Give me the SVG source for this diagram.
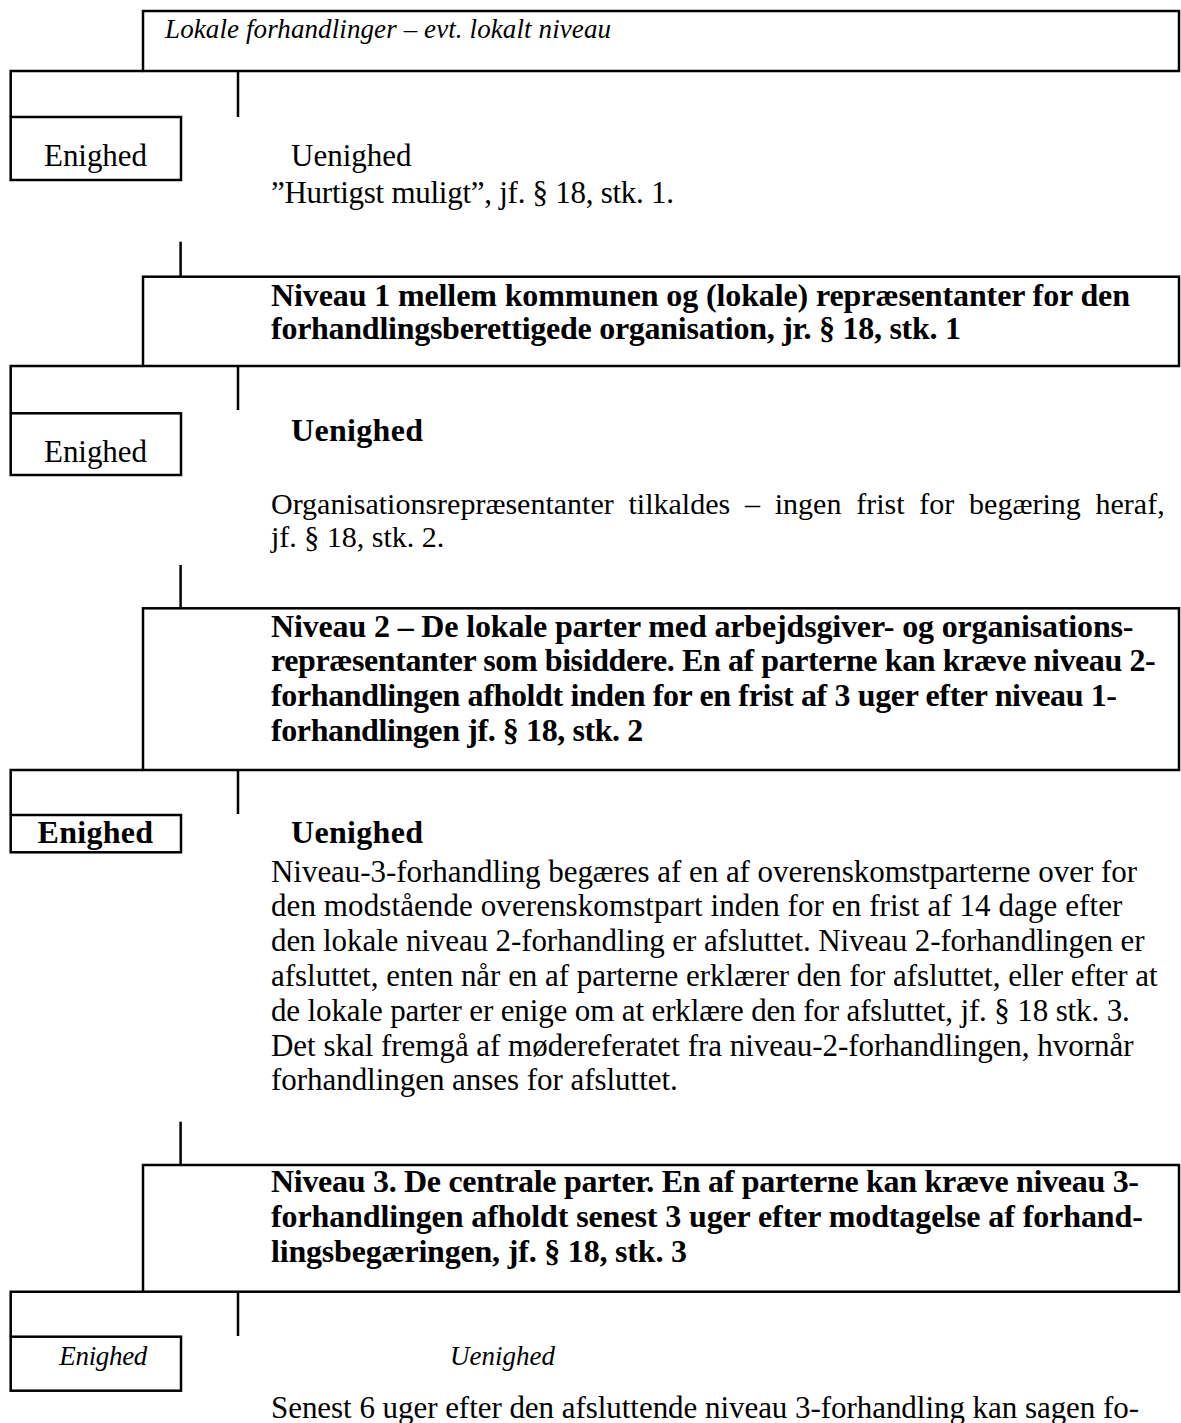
<svg xmlns="http://www.w3.org/2000/svg" width="1181" height="1423" viewBox="0 0 1181 1423">
<style>
.box{fill:#fff;stroke:#000;stroke-width:2.5}
.ln{fill:none;stroke:#000;stroke-width:2.5}
text{font-family:"Liberation Serif","Times New Roman",serif;fill:#000}
.r{font-size:31px}
.r2{font-size:30px}
.b{font-size:32px;font-weight:bold}
.i{font-size:27px;font-style:italic}
</style>
<rect x="0" y="0" width="1181" height="1423" fill="#fff"/>
<g id="connectors">
<polyline class="ln" points="10.7,117 10.7,71 143,71"/>
<line class="ln" x1="238" y1="71" x2="238" y2="117"/>
<line class="ln" x1="180.6" y1="241.7" x2="180.6" y2="276.7"/>
<polyline class="ln" points="10.7,413.3 10.7,366 143,366"/>
<line class="ln" x1="238" y1="366" x2="238" y2="410"/>
<line class="ln" x1="180.6" y1="565" x2="180.6" y2="608.3"/>
<polyline class="ln" points="10.7,815 10.7,770 143,770"/>
<line class="ln" x1="238" y1="770" x2="238" y2="814"/>
<line class="ln" x1="180.6" y1="1121.7" x2="180.6" y2="1165"/>
<polyline class="ln" points="10.7,1336.7 10.7,1291.7 143,1291.7"/>
<line class="ln" x1="238" y1="1291.7" x2="238" y2="1336"/>
</g>
<g id="lokale">
<rect class="box" x="143" y="11" width="1036" height="60"/>
<text class="i" x="165" y="38" textLength="446">Lokale forhandlinger – evt. lokalt niveau</text>
</g>
<g id="enighed1">
<rect class="box" x="10.7" y="117" width="170.3" height="63"/>
<text class="r" x="44" y="166" textLength="103">Enighed</text>
</g>
<g id="uenighed1">
<text class="r" x="291" y="166">Uenighed</text>
<text class="r" x="271" y="203" textLength="403">”Hurtigst muligt”, jf. § 18, stk. 1.</text>
</g>
<g id="niveau1">
<rect class="box" x="143" y="276.7" width="1036" height="89.3"/>
<text class="b" x="271" y="306" textLength="859">Niveau 1 mellem kommunen og (lokale) repræsentanter for den</text>
<text class="b" x="271" y="339" textLength="690">forhandlingsberettigede organisation, jr. § 18, stk. 1</text>
</g>
<g id="enighed2">
<rect class="box" x="10.7" y="413.3" width="170.3" height="61.7"/>
<text class="r" x="44" y="461.7" textLength="103">Enighed</text>
</g>
<g id="uenighed2">
<text class="b" x="291" y="440.7" textLength="132">Uenighed</text>
<text class="r2" x="271" y="514" word-spacing="7.3">Organisationsrepræsentanter tilkaldes – ingen frist for begæring heraf,</text>
<text class="r2" x="271" y="547">jf. § 18, stk. 2.</text>
</g>
<g id="niveau2">
<rect class="box" x="143" y="608.3" width="1036" height="161.7"/>
<text class="b" x="271" y="636.5" textLength="862.5">Niveau 2 – De lokale parter med arbejdsgiver- og organisations-</text>
<text class="b" x="271" y="671" textLength="884.7">repræsentanter som bisiddere. En af parterne kan kræve niveau 2-</text>
<text class="b" x="271" y="705.5" textLength="846">forhandlingen afholdt inden for en frist af 3 uger efter niveau 1-</text>
<text class="b" x="271" y="741" textLength="372.3">forhandlingen jf. § 18, stk. 2</text>
</g>
<g id="enighed3">
<rect class="box" x="10.7" y="815" width="170.3" height="37.3"/>
<text class="b" x="37.5" y="842.7" textLength="115.6">Enighed</text>
</g>
<g id="uenighed3">
<text class="b" x="291" y="842.7" textLength="132">Uenighed</text>
<text class="r" x="271" y="881.5" textLength="866">Niveau-3-forhandling begæres af en af overenskomstparterne over for</text>
<text class="r" x="271" y="916.3" textLength="851.4">den modstående overenskomstpart inden for en frist af 14 dage efter</text>
<text class="r" x="271" y="951.1" textLength="873.6">den lokale niveau 2-forhandling er afsluttet. Niveau 2-forhandlingen er</text>
<text class="r" x="271" y="985.9" textLength="886.6">afsluttet, enten når en af parterne erklærer den for afsluttet, eller efter at</text>
<text class="r" x="271" y="1020.7" textLength="858.8">de lokale parter er enige om at erklære den for afsluttet, jf. § 18 stk. 3.</text>
<text class="r" x="271" y="1055.5" textLength="862.5">Det skal fremgå af mødereferatet fra niveau-2-forhandlingen, hvornår</text>
<text class="r" x="271" y="1090.3" textLength="406.8">forhandlingen anses for afsluttet.</text>
</g>
<g id="niveau3">
<rect class="box" x="143" y="1165" width="1036" height="126.7"/>
<text class="b" x="271" y="1191.7" textLength="868">Niveau 3. De centrale parter. En af parterne kan kræve niveau 3-</text>
<text class="b" x="271" y="1226.7" textLength="871.8">forhandlingen afholdt senest 3 uger efter modtagelse af forhand-</text>
<text class="b" x="271" y="1261.7" textLength="416">lingsbegæringen, jf. § 18, stk. 3</text>
</g>
<g id="enighed4">
<rect class="box" x="10.7" y="1336.7" width="170.3" height="54"/>
<text class="i" x="59.3" y="1365" textLength="88">Enighed</text>
</g>
<g id="uenighed4">
<text class="i" x="450" y="1365">Uenighed</text>
<text class="r" x="271" y="1418" textLength="868">Senest 6 uger efter den afsluttende niveau 3-forhandling kan sagen fo-</text>
</g>
</svg>
